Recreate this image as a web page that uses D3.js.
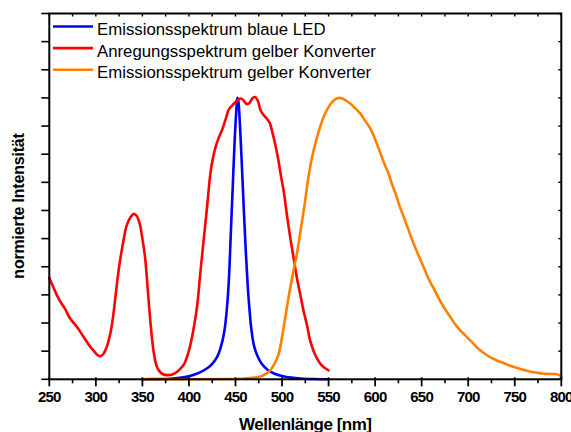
<!DOCTYPE html>
<html>
<head>
<meta charset="utf-8">
<script src="https://cdn.jsdelivr.net/npm/d3@7/dist/d3.min.js"></script>
<style>
  html, body { margin: 0; padding: 0; background: #fff; }
  svg { display: block; font-family: "Liberation Sans", Arial, sans-serif; }
</style>
</head>
<body>
<svg id="chart" width="571" height="432"></svg>
<script>
// Wavelength axis ticks (nm)
const xTicks = [250, 300, 350, 400, 450, 500, 550, 600, 650, 700, 750, 800];

// Emission spectrum of the blue LED: [wavelength nm, normalised intensity]
const blueLED = [
  [350, 0.0], [370, 0.001], [380, 0.002], [390, 0.005], [400, 0.011], [410, 0.022],
  [420, 0.04], [425, 0.055], [430, 0.078], [434, 0.112], [438, 0.17], [441, 0.26],
  [443, 0.36], [445, 0.52], [447, 0.68], [449, 0.84], [451, 0.96], [452, 1.0],
  [453, 0.99], [455, 0.89], [457, 0.75], [459, 0.6], [461, 0.46], [463, 0.34],
  [465, 0.25], [467, 0.18], [470, 0.118], [474, 0.08], [478, 0.056], [485, 0.032],
  [492, 0.02], [500, 0.012], [510, 0.006], [520, 0.003], [535, 0.001], [550, 0.0]
];

// Excitation spectrum of the yellow converter
const redExcitation = [
  [250, 0.36], [254, 0.33], [258, 0.3], [262, 0.275], [267, 0.25], [272, 0.218],
  [280, 0.185], [287, 0.15], [293, 0.12], [298, 0.1], [302, 0.086], [305, 0.082],
  [308, 0.09], [312, 0.118], [316, 0.17], [319, 0.235], [322, 0.32], [325, 0.4],
  [329, 0.48], [333, 0.545], [337, 0.575], [341, 0.588], [344, 0.58], [347, 0.555],
  [350, 0.5], [353, 0.43], [356, 0.31], [359, 0.19], [362, 0.1], [365, 0.05],
  [368, 0.03], [372, 0.018], [377, 0.015], [382, 0.017], [387, 0.026], [391, 0.038],
  [395, 0.055], [398, 0.08], [401, 0.115], [405, 0.18], [409, 0.265], [412, 0.37],
  [416, 0.5], [420, 0.63], [423, 0.73], [426, 0.79], [429, 0.83], [432, 0.858],
  [436, 0.89], [440, 0.93], [443, 0.96], [447, 0.975], [450, 0.985], [453, 0.995],
  [456, 0.998], [459, 0.99], [462, 0.978], [465, 0.982], [468, 0.998], [471, 1.003],
  [474, 0.99], [477, 0.955], [480, 0.94], [484, 0.925], [487, 0.91], [490, 0.872],
  [493, 0.83], [496, 0.78], [499, 0.72], [502, 0.665], [505, 0.59], [509, 0.5],
  [513, 0.42], [516, 0.36], [520, 0.295], [523, 0.245], [527, 0.19], [530, 0.14],
  [534, 0.1], [538, 0.072], [542, 0.052], [546, 0.04], [550, 0.032]
];

// Emission spectrum of the yellow converter
const orangeEmission = [
  [350, 0.0], [400, 0.0], [440, 0.001], [460, 0.003], [470, 0.006], [477, 0.01],
  [483, 0.02], [488, 0.034], [492, 0.056], [496, 0.085], [500, 0.15], [504, 0.23],
  [508, 0.31], [512, 0.38], [516, 0.447], [520, 0.53], [524, 0.615], [528, 0.71],
  [532, 0.785], [536, 0.84], [541, 0.898], [545, 0.935], [549, 0.962], [553, 0.982],
  [557, 0.995], [561, 1.0], [565, 0.998], [569, 0.99], [574, 0.978], [579, 0.962],
  [584, 0.945], [589, 0.92], [595, 0.89], [600, 0.853], [605, 0.81], [610, 0.765],
  [614, 0.735], [618, 0.695], [622, 0.66], [626, 0.618], [631, 0.575], [636, 0.53],
  [641, 0.485], [646, 0.445], [652, 0.4], [657, 0.36], [663, 0.323], [668, 0.29],
  [674, 0.255], [680, 0.225], [688, 0.187], [695, 0.162], [702, 0.139], [709, 0.115],
  [716, 0.095], [723, 0.08], [731, 0.067], [738, 0.058], [745, 0.048], [752, 0.041],
  [759, 0.034], [766, 0.028], [773, 0.024], [781, 0.02], [788, 0.019], [795, 0.018],
  [798, 0.015], [800, 0.008]
];

const seriesNames = [
  "Emissionsspektrum blaue LED",
  "Anregungsspektrum gelber Konverter",
  "Emissionsspektrum gelber Konverter"
];
const seriesColors = ["#0000ff", "#ff0000", "#ff8000"];
const seriesData = [blueLED, redExcitation, orangeEmission];

const svg = d3.select("#chart");
const plotLeft = 49.3, plotRight = 561.3, plotTop = 13.5, plotBottom = 379.3;

const x = d3.scaleLinear().domain([250, 800]).range([plotLeft, plotRight]);
const y = d3.scaleLinear().domain([0, 1.3]).range([plotBottom, plotTop]);

const minorX = d3.range(250, 801, 25);
const yTicks = d3.range(0, 1.3001, 0.1);

// Curves
const line = d3.line()
  .x(d => x(d[0]))
  .y(d => y(d[1]))
  .curve(d3.curveCatmullRom.alpha(0.5));

svg.append("g").selectAll("path")
  .data(seriesData)
  .join("path")
  .attr("d", d => line(d))
  .attr("fill", "none")
  .attr("stroke", (d, i) => seriesColors[i])
  .attr("stroke-width", 2.6)
  .attr("stroke-linejoin", "round")
  .attr("stroke-linecap", "round");

// Frame
svg.append("rect")
  .attr("x", plotLeft).attr("y", plotTop)
  .attr("width", plotRight - plotLeft).attr("height", plotBottom - plotTop)
  .attr("fill", "none")
  .attr("stroke", "#000")
  .attr("stroke-width", 2);

// Bottom axis: major ticks cross the line, minor ticks point outward
const bottomAxis = svg.append("g");
bottomAxis.append("g").selectAll("line")
  .data(minorX.filter(v => v % 50 !== 0))
  .join("line")
  .attr("x1", d => x(d)).attr("x2", d => x(d))
  .attr("y1", plotBottom).attr("y2", plotBottom + 4)
  .attr("stroke", "#000").attr("stroke-width", 1.6);
bottomAxis.append("g").selectAll("line")
  .data(xTicks)
  .join("line")
  .attr("x1", d => x(d)).attr("x2", d => x(d))
  .attr("y1", plotBottom - 2).attr("y2", plotBottom + 7)
  .attr("stroke", "#000").attr("stroke-width", 1.8);
bottomAxis.append("g").selectAll("text")
  .data(xTicks)
  .join("text")
  .attr("x", d => x(d))
  .attr("y", plotBottom + 22.4)
  .attr("text-anchor", "middle")
  .attr("font-size", 15)
  .attr("font-weight", "bold")
  .attr("letter-spacing", -0.8)
  .attr("fill", "#000")
  .text(d => d);

// Top axis ticks point inward
svg.append("g").selectAll("line")
  .data(minorX)
  .join("line")
  .attr("x1", d => x(d)).attr("x2", d => x(d))
  .attr("y1", plotTop).attr("y2", plotTop + 3)
  .attr("stroke", "#000").attr("stroke-width", 1.4);

// Left axis ticks point outward, right axis ticks point inward
svg.append("g").selectAll("line")
  .data(yTicks)
  .join("line")
  .attr("x1", plotLeft - 8).attr("x2", plotLeft)
  .attr("y1", d => y(d)).attr("y2", d => y(d))
  .attr("stroke", "#000").attr("stroke-width", 1.6);
svg.append("g").selectAll("line")
  .data(yTicks)
  .join("line")
  .attr("x1", plotRight - 3).attr("x2", plotRight)
  .attr("y1", d => y(d)).attr("y2", d => y(d))
  .attr("stroke", "#000").attr("stroke-width", 1.4);

// Axis titles
svg.append("text")
  .attr("x", (plotLeft + plotRight) / 2)
  .attr("y", 430)
  .attr("text-anchor", "middle")
  .attr("font-size", 17)
  .attr("font-weight", "bold")
  .attr("letter-spacing", -0.5)
  .text("Wellenlänge [nm]");

svg.append("text")
  .attr("transform", "translate(24,206) rotate(-90)")
  .attr("text-anchor", "middle")
  .attr("font-size", 16)
  .attr("font-weight", "bold")
  .attr("letter-spacing", -0.2)
  .text("normierte Intensität");

// Legend
const legend = svg.append("g");
seriesNames.forEach((name, i) => {
  const by = 35 + i * 21.6;
  legend.append("line")
    .attr("x1", 53).attr("x2", 93)
    .attr("y1", by - 8.5).attr("y2", by - 8.5)
    .attr("stroke", seriesColors[i])
    .attr("stroke-width", 2.6);
  legend.append("text")
    .attr("x", 97)
    .attr("y", by)
    .attr("font-size", 16.8)
    .attr("fill", "#000")
    .text(name);
});
</script>
</body>
</html>
